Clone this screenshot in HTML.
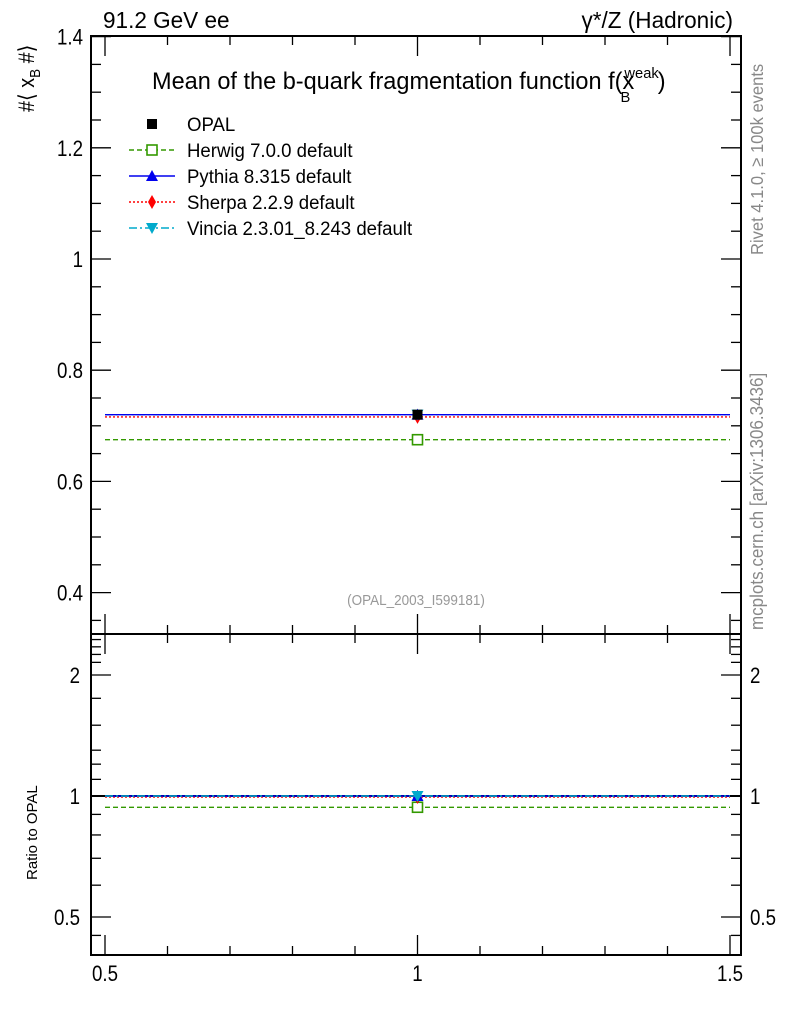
<!DOCTYPE html>
<html><head><meta charset="utf-8"><style>
html,body{margin:0;padding:0;background:#fff;}
svg{display:block;font-family:"Liberation Sans",sans-serif;}
</style></head><body>
<svg id="chart" width="786" height="1024" viewBox="0 0 786 1024">
<g id="axes"></g>
<g id="marks"></g>
<text transform="translate(103,28) scale(0.98,1)" font-size="23">91.2 GeV ee</text>
<text transform="translate(733,28) scale(0.98,1)" font-size="23" text-anchor="end">γ*/Z (Hadronic)</text>
<text transform="translate(152,89) scale(0.98,1)" font-size="24">Mean of the b-quark fragmentation function f(<tspan>x</tspan><tspan font-size="15" dy="-11" dx="-10">weak</tspan><tspan font-size="15" dx="-39" dy="24">B</tspan><tspan dy="-13" dx="28">)</tspan></text>
<text transform="translate(34,112) rotate(-90) scale(0.9,1)" font-size="22">#⟨ x<tspan font-size="15" dy="6">B</tspan><tspan dy="-6"> #⟩</tspan></text>
<text transform="translate(37,880) rotate(-90)" font-size="15">Ratio to OPAL</text>
<text transform="translate(763,255) rotate(-90) scale(0.92,1)" font-size="18" fill="#888">Rivet 4.1.0, ≥ 100k events</text>
<text transform="translate(763,630) rotate(-90) scale(0.92,1)" font-size="18.5" fill="#888">mcplots.cern.ch [arXiv:1306.3436]</text>
<text transform="translate(416,605) scale(0.9,1)" font-size="15" fill="#999" text-anchor="middle">(OPAL_2003_I599181)</text>
<g id="legend"></g>
</svg>
<script>
const names = ["OPAL","Herwig 7.0.0 default","Pythia 8.315 default","Sherpa 2.2.9 default","Vincia 2.3.01_8.243 default"];
const values = [0.72, 0.675, 0.72, 0.716, 0.72];
const ratios = [1.0, 0.9375, 1.0, 0.994, 1.0];
const xBin = [0.5, 1.5];
const xCenter = [1.0];
const yTicks = [0.4,0.6,0.8,1.0,1.2,1.4];
const yTickLabels = ["0.4","0.6","0.8","1","1.2","1.4"];
const rTicks = [0.5,1,2];
const rTickLabels = ["0.5","1","2"];
const rMinor = [0.45,0.6,0.7,0.8,0.9,1.1,1.2,1.3,1.5,1.75,2.15,2.25,2.35,2.45];
const xTicks = [0.5,1,1.5];
const xTickLabels = ["0.5","1","1.5"];

const NS="http://www.w3.org/2000/svg";
const L=91,R=741,T=36,M=634,B=955;
const xs=v=>105+(v-0.5)*625;
const ys=v=>259-(v-1)*556;
const yr=v=>796-Math.log10(v)*402;
function mk(tag,attrs,parent){const e=document.createElementNS(NS,tag);for(const k in attrs)e.setAttribute(k,attrs[k]);parent.appendChild(e);return e;}
const ax=document.getElementById('axes');
const mg=document.getElementById('marks');
const lg=document.getElementById('legend');

let f1=mk('rect',{x:L,y:T,width:R-L,height:M-T,fill:'none',stroke:'#000','stroke-width':2},ax);


let f2=mk('rect',{x:L,y:M,width:R-L,height:B-M,fill:'none',stroke:'#000','stroke-width':2},ax);



function label(x,y,txt,anchor,name){const t=mk('text',{transform:`translate(${x},${y}) scale(0.85,1)`,'font-size':22,'text-anchor':anchor},ax);t.textContent=txt;
 
 }

for(let k=0;k<=10;k++){const v=0.5+k*0.1;const x=xs(v);const maj=(k%5===0);const len=maj?20:9;
 for(const [yb,dir] of [[T,1],[M,-1],[M,1],[B,-1]]){const t=mk('line',{x1:x,x2:x,y1:yb,y2:yb+dir*len,stroke:'#000','stroke-width':1.3},ax);
 
 }}
xTicks.forEach((v,i)=>label(xs(v),981,xTickLabels[i],'middle','x-tick-label'));

for(let k=0;k<=22;k++){const vv=Math.round((0.35+k*0.05)*100)/100;const y=ys(vv);if(y<T-1||y>M)continue;const maj=Math.abs(vv*5-Math.round(vv*5))<1e-6;const len=maj?20:10;
 for(const [xb,dir] of [[L,1],[R,-1]]){const t=mk('line',{x1:xb,x2:xb+dir*len,y1:y,y2:y,stroke:'#000','stroke-width':1.3},ax);
 
 }}
yTicks.forEach((v,i)=>label(83,ys(v)+8,yTickLabels[i],'end','y-tick-label'));

rTicks.concat(rMinor).forEach(v=>{const y=yr(v);if(y<M||y>B)return;const maj=rTicks.includes(v);const len=maj?20:10;
 for(const [xb,dir] of [[L,1],[R,-1]]){const t=mk('line',{x1:xb,x2:xb+dir*len,y1:y,y2:y,stroke:'#000','stroke-width':1.3},ax);
 
 }});
rTicks.forEach((v,i)=>{label(80,yr(v)+8,rTickLabels[i],'end','ratio-tick-label');label(750,yr(v)+8,rTickLabels[i],'start','ratio-tick-label');});
let rl=mk('line',{x1:L,x2:R,y1:yr(1),y2:yr(1),stroke:'#000','stroke-width':2},ax);



const colors=['#000','#339900','#0000ee','#ff0000','#00aacc'];
const dashes=['','5,3','','2,2','8,3,2,3'];
function marker(i,x,y,p){let e;
 if(i===0)e=mk('rect',{x:x-5,y:y-5,width:10,height:10,fill:'#000'},p);
 else if(i===1)e=mk('rect',{x:x-5,y:y-5,width:10,height:10,fill:'#fff',stroke:colors[1],'stroke-width':1.6},p);
 else if(i===2)e=mk('path',{d:`M${x-6},${y+5}L${x+6},${y+5}L${x},${y-6}Z`,fill:colors[2]},p);
 else if(i===3)e=mk('path',{d:`M${x},${y-7}L${x+4},${y}L${x},${y+7}L${x-4},${y}Z`,fill:colors[3]},p);
 else e=mk('path',{d:`M${x-6},${y-5}L${x+6},${y-5}L${x},${y+6}Z`,fill:colors[4]},p);
 return e;}
function series(i,val,sy,tag){
 if(i>0){const l=mk('line',{x1:xs(xBin[0]),x2:xs(xBin[1]),y1:sy(val),y2:sy(val),stroke:colors[i],'stroke-width':1.4,'stroke-dasharray':dashes[i]},mg);
 
 }
 const m=marker(i,xs(xCenter[0]),sy(val),mg);
 
 }
[1,3,4,2,0].forEach(i=>series(i,values[i],ys,'main'));
[1,3,2,4].forEach(i=>series(i,ratios[i],yr,'ratio'));

names.forEach((n,i)=>{const y=124+i*26;const g=mk('g',{},lg);
 
 
 if(i>0)mk('line',{x1:129,x2:175,y1:y,y2:y,stroke:colors[i],'stroke-width':1.4,'stroke-dasharray':dashes[i]},g);
 marker(i,152,y,g);
 const t=mk('text',{transform:`translate(187,${y+7}) scale(0.98,1)`,'font-size':19},g);t.textContent=n;});
</script>
</body></html>
